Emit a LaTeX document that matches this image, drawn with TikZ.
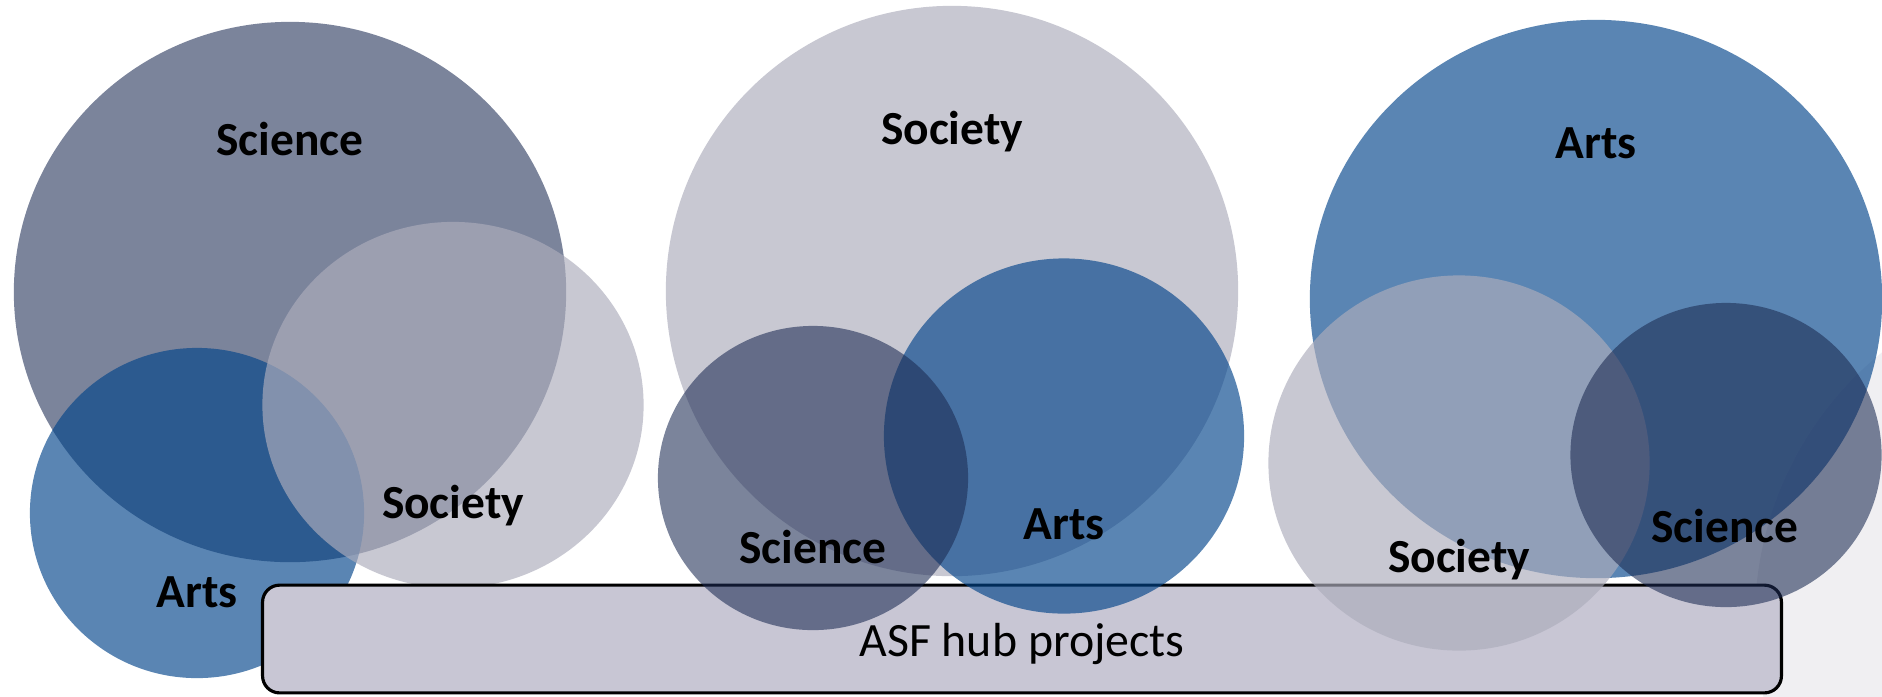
\documentclass[tikz,border=0pt]{standalone}
\usepackage{fontspec}
\setmainfont{Carlito}
\definecolor{sciC}{RGB}{28,43,83}
\definecolor{socC}{RGB}{173,173,188}
\definecolor{artC}{RGB}{2,68,138}
\definecolor{hubC}{RGB}{200,198,212}
\definecolor{bgC}{RGB}{240,239,242}
\begin{document}
\begin{tikzpicture}[x=0.01cm,y=-0.01cm,
  scicirc/.style={fill=sciC,fill opacity=0.58},
  soccirc/.style={fill=socC,fill opacity=0.67},
  artcirc/.style={fill=artC,fill opacity=0.65},
  lbl/.style={anchor=base,inner sep=0pt,font=\fontsize{13.5}{16}\selectfont\bfseries,text=black},
  hubbox/.style={draw=black,line width=0.9pt,rounded corners=0.17cm,fill=hubC,inner sep=0pt}]
\useasboundingbox (0,0) rectangle (1882,696);
\begin{scope}
  \clip (0,0) rectangle (1882,696);
  % faint background shape
  \fill[bgC] (2100,620) circle [radius=3.45cm];
  % group 1
  \fill[scicirc] (290,292) ellipse [x radius=2.76cm, y radius=2.70cm];
  \fill[artcirc] (197,513) ellipse [x radius=1.67cm, y radius=1.65cm];
  \fill[soccirc] (453,405) ellipse [x radius=1.905cm, y radius=1.83cm];
  % hub box
  \node[hubbox, minimum width=15.18cm, minimum height=1.077cm] (hub) at (1022,639) {};
  % group 2
  \fill[soccirc] (952,291) ellipse [x radius=2.86cm, y radius=2.85cm];
  \fill[artcirc] (1064,436) ellipse [x radius=1.80cm, y radius=1.775cm];
  \fill[scicirc] (813,478) ellipse [x radius=1.55cm, y radius=1.52cm];
  % group 3
  \fill[artcirc] (1596,299) ellipse [x radius=2.86cm, y radius=2.79cm];
  \fill[soccirc] (1459,463) ellipse [x radius=1.905cm, y radius=1.875cm];
  \fill[scicirc] (1726,455) ellipse [x radius=1.555cm, y radius=1.52cm];
\end{scope}
% labels
\node[lbl] (sci1) at (290,155) {Science};
\node[lbl] (soc1) at (453,518) {Society};
\node[lbl] (art1) at (197,607) {Arts};
\node[lbl] (soc2) at (952,144) {Society};
\node[lbl] (sci2) at (813,563) {Science};
\node[lbl] (art2) at (1064,539) {Arts};
\node[lbl] (art3) at (1596,158) {Arts};
\node[lbl] (soc3) at (1459,572) {Society};
\node[lbl] (sci3) at (1725,542) {Science};
\node[anchor=base,inner sep=0pt,font=\fontsize{13.6}{16}\selectfont] (hubtext) at (1022,656) {ASF hub projects};
\end{tikzpicture}
\end{document}
